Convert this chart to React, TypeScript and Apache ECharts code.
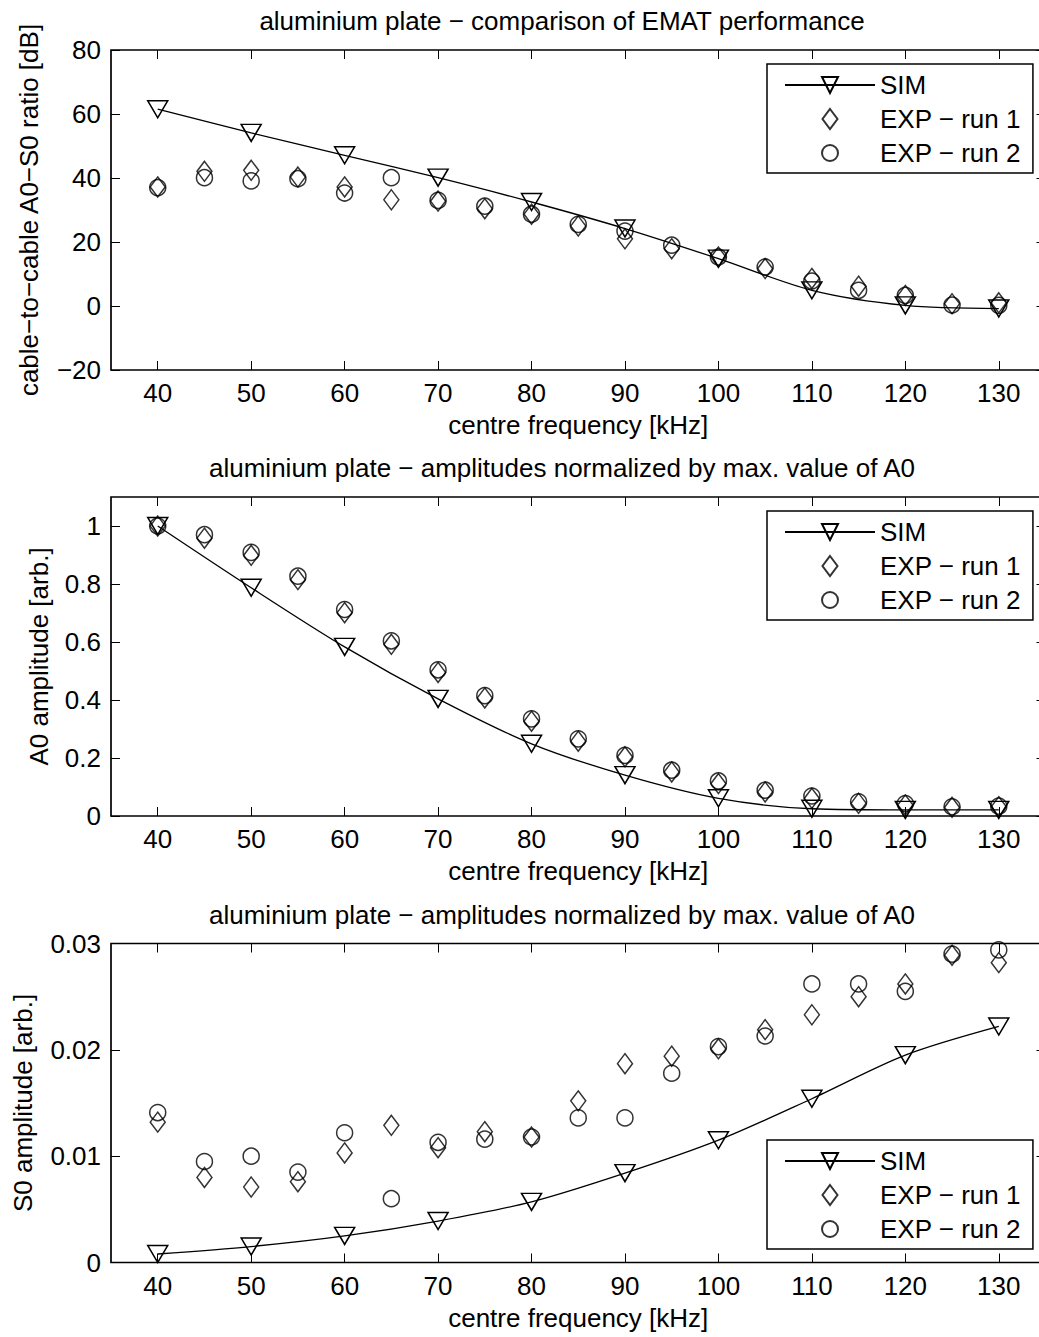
import React, { useEffect, useRef } from 'react';
import * as echarts from 'echarts';

// ---------------- data ----------------
const FREQ = [40, 45, 50, 55, 60, 65, 70, 75, 80, 85, 90, 95, 100, 105, 110, 115, 120, 125, 130];
const SIM_FREQ = [40, 50, 60, 70, 80, 90, 100, 110, 120, 130];
const X_TICKS = [40, 50, 60, 70, 80, 90, 100, 110, 120, 130];

const RATIO_SIM = [61.5, 54.1, 47.1, 40.1, 32.5, 24.2, 14.8, 4.9, 0.2, -0.8];
const RATIO_RUN1 = [37.2, 42.1, 42.4, 40.3, 37.2, 33.2, 32.8, 30.4, 28.7, 25.0, 21.0, 17.9, 15.3, 11.7, 8.6, 6.2, 3.3, 0.7, 1.0];
const RATIO_RUN2 = [37.0, 40.1, 39.1, 39.8, 35.3, 40.1, 33.0, 31.2, 28.7, 25.5, 23.4, 19.0, 15.3, 12.2, 7.8, 4.9, 3.3, 0.3, 0.2];

const A0_SIM = [1.0, 0.787, 0.583, 0.404, 0.249, 0.141, 0.061, 0.025, 0.021, 0.021];
const A0_RUN1 = [1.0, 0.958, 0.899, 0.815, 0.701, 0.592, 0.495, 0.407, 0.327, 0.258, 0.204, 0.152, 0.112, 0.083, 0.061, 0.044, 0.038, 0.030, 0.032];
const A0_RUN2 = [1.0, 0.970, 0.909, 0.827, 0.712, 0.604, 0.504, 0.415, 0.335, 0.266, 0.209, 0.158, 0.121, 0.089, 0.069, 0.049, 0.043, 0.032, 0.034];

const S0_SIM = [0.0008, 0.0015, 0.0025, 0.0039, 0.0057, 0.0084, 0.0115, 0.0154, 0.0195, 0.0222];
const S0_RUN1 = [0.0132, 0.0080, 0.0071, 0.0076, 0.0103, 0.0129, 0.0108, 0.0123, 0.0118, 0.0152, 0.0187, 0.0194, 0.0201, 0.0219, 0.0233, 0.0250, 0.0262, 0.0289, 0.0282];
const S0_RUN2 = [0.0141, 0.0095, 0.0100, 0.0085, 0.0122, 0.0060, 0.0113, 0.0116, 0.0118, 0.0136, 0.0136, 0.0178, 0.0203, 0.0213, 0.0262, 0.0262, 0.0255, 0.0290, 0.0294];

const Y_TICKS_RATIO = [-20, 0, 20, 40, 60, 80];
const Y_TICKS_A0 = [0, 0.2, 0.4, 0.6, 0.8, 1];
const Y_TICKS_S0 = [0, 0.01, 0.02, 0.03];

const TITLE_RATIO = 'aluminium plate − comparison of EMAT performance';
const TITLE_AMP = 'aluminium plate − amplitudes normalized by max. value of A0';
const Y_NAME_RATIO = 'cable−to−cable A0−S0 ratio [dB]';
const Y_NAME_A0 = 'A0 amplitude [arb.]';
const Y_NAME_S0 = 'S0 amplitude [arb.]';
const X_NAME = 'centre frequency [kHz]';
const NAME_SIM = 'SIM';
const NAME_RUN1 = 'EXP − run 1';
const NAME_RUN2 = 'EXP − run 2';

// ---------------- style ----------------
const FONT = '"Liberation Sans", Arial, Helvetica, sans-serif';
const FS = 26;
const TRI = 'path://M0,0 L20,0 L10,17 Z';
const DIAMOND_ICON = 'path://M7.5,0 L15,10 L7.5,20 L0,10 Z';
const CIRCLE_ICON = 'path://M0,0 M20,20 M2,10 A8,8 0 1 1 18,10 A8,8 0 1 1 2,10 Z';

const PANELS = [
  { title: TITLE_RATIO, yName: Y_NAME_RATIO, sim: RATIO_SIM, run1: RATIO_RUN1, run2: RATIO_RUN2, yMin: -20, yMax: 80, yTicks: Y_TICKS_RATIO, top: 50, height: 320, nameGapY: 69, legendTop: 64, titleY: 21 },
  { title: TITLE_AMP, yName: Y_NAME_A0, sim: A0_SIM, run1: A0_RUN1, run2: A0_RUN2, yMin: 0, yMax: 1.1, yTicks: Y_TICKS_A0, top: 497, height: 319, nameGapY: 59, legendTop: 511, titleY: 468 },
  { title: TITLE_AMP, yName: Y_NAME_S0, sim: S0_SIM, run1: S0_RUN1, run2: S0_RUN2, yMin: 0, yMax: 0.03, yTicks: Y_TICKS_S0, top: 943.5, height: 319, nameGapY: 75, legendTop: 1140, titleY: 914.5 },
];

const GRID_LEFT = 111;
const GRID_WIDTH = 934.5;
const TITLE_X = 562;

function fmt(v: number) {
  const s = String(Math.round(v * 10000) / 10000);
  return v < 0 ? '−' + s.slice(1) : s;
}

function buildOption() {
  const grid: any[] = [];
  const xAxis: any[] = [];
  const yAxis: any[] = [];
  const series: any[] = [];
  const legend: any[] = [];
  const graphic: any[] = [];
  const tickStyle = { show: true, inside: true, length: 9, lineStyle: { color: '#000', width: 1 } };
  const labelStyle = { color: '#000', fontSize: FS, fontFamily: FONT };
  const hiddenLine = { show: false, onZero: false };
  const markerStyle = { color: 'rgba(0,0,0,0)', borderColor: '#000', borderWidth: 1.5 };

  PANELS.forEach((p, i) => {
    grid.push({
      left: GRID_LEFT, top: p.top, width: GRID_WIDTH, height: p.height,
      show: true, borderColor: '#000', borderWidth: 1.7, backgroundColor: 'transparent',
    });
    xAxis.push({
      type: 'value', gridIndex: i, position: 'bottom', min: 35, max: 135,
      axisLine: hiddenLine,
      axisTick: { ...tickStyle, customValues: X_TICKS },
      axisLabel: { ...labelStyle, margin: 10, customValues: X_TICKS, formatter: (v: number) => fmt(v) },
      splitLine: { show: false },
      name: X_NAME, nameLocation: 'middle', nameGap: 42,
      nameTextStyle: { ...labelStyle },
    });
    xAxis.push({
      type: 'value', gridIndex: i, position: 'top', min: 35, max: 135,
      axisLine: hiddenLine,
      axisTick: { ...tickStyle, customValues: X_TICKS },
      axisLabel: { show: false, customValues: X_TICKS },
      splitLine: { show: false },
    });
    yAxis.push({
      type: 'value', gridIndex: i, position: 'left', min: p.yMin, max: p.yMax,
      axisLine: hiddenLine,
      axisTick: { ...tickStyle, customValues: p.yTicks },
      axisLabel: { ...labelStyle, margin: 10, customValues: p.yTicks, formatter: (v: number) => fmt(v) },
      splitLine: { show: false },
      name: p.yName, nameLocation: 'middle', nameGap: p.nameGapY,
      nameTextStyle: { ...labelStyle },
    });
    yAxis.push({
      type: 'value', gridIndex: i, position: 'right', min: p.yMin, max: p.yMax,
      axisLine: hiddenLine,
      axisTick: { ...tickStyle, customValues: p.yTicks },
      axisLabel: { show: false, customValues: p.yTicks },
      splitLine: { show: false },
    });

    series.push({
      type: 'line', name: NAME_SIM, xAxisIndex: 2 * i, yAxisIndex: 2 * i,
      data: SIM_FREQ.map((f, k) => [f, p.sim[k]]),
      symbol: TRI, symbolSize: [20, 17], showSymbol: true, smooth: 0.3,
      lineStyle: { color: '#000', width: 1.3 },
      itemStyle: markerStyle,
      z: 3,
    });
    series.push({
      type: 'scatter', name: NAME_RUN1, xAxisIndex: 2 * i, yAxisIndex: 2 * i,
      data: FREQ.map((f, k) => [f, p.run1[k]]),
      symbol: 'diamond', symbolSize: [15, 20],
      itemStyle: markerStyle,
      z: 3,
    });
    series.push({
      type: 'scatter', name: NAME_RUN2, xAxisIndex: 2 * i, yAxisIndex: 2 * i,
      data: FREQ.map((f, k) => [f, p.run2[k]]),
      symbol: 'circle', symbolSize: 16,
      itemStyle: markerStyle,
      z: 3,
    });

    legend.push({
      show: true, orient: 'vertical', left: 767, top: p.legendTop,
      padding: [8, 12, 7, 17], itemWidth: 90, itemHeight: 20, itemGap: 8,
      backgroundColor: '#fff', borderColor: '#000', borderWidth: 1.5, borderRadius: 0,
      selectedMode: false,
      textStyle: { ...labelStyle },
      data: [
        { name: NAME_SIM },
        { name: NAME_RUN1, icon: DIAMOND_ICON },
        { name: NAME_RUN2, icon: CIRCLE_ICON },
      ],
      z: 10,
    });

    graphic.push({
      type: 'text', x: TITLE_X, y: p.titleY,
      style: {
        text: p.title, fill: '#000', font: `${FS}px ${FONT}`,
        textAlign: 'center', textVerticalAlign: 'middle', align: 'center', verticalAlign: 'middle',
      },
    });
  });

  return { animation: false, backgroundColor: '#fff', grid, xAxis, yAxis, series, legend, graphic };
}

export default function App() {
  const ref = useRef<HTMLDivElement>(null);
  useEffect(() => {
    if (!ref.current) return;
    const chart = echarts.init(ref.current, null, { renderer: 'svg' });
    chart.setOption(buildOption() as any);
    return () => chart.dispose();
  }, []);
  return (
    <div style={{ position: 'absolute', left: 0, top: 0, width: 1039, height: 1337, overflow: 'hidden', background: '#fff' }}>
      <div ref={ref} style={{ width: 1060, height: 1337 }} />
    </div>
  );
}
